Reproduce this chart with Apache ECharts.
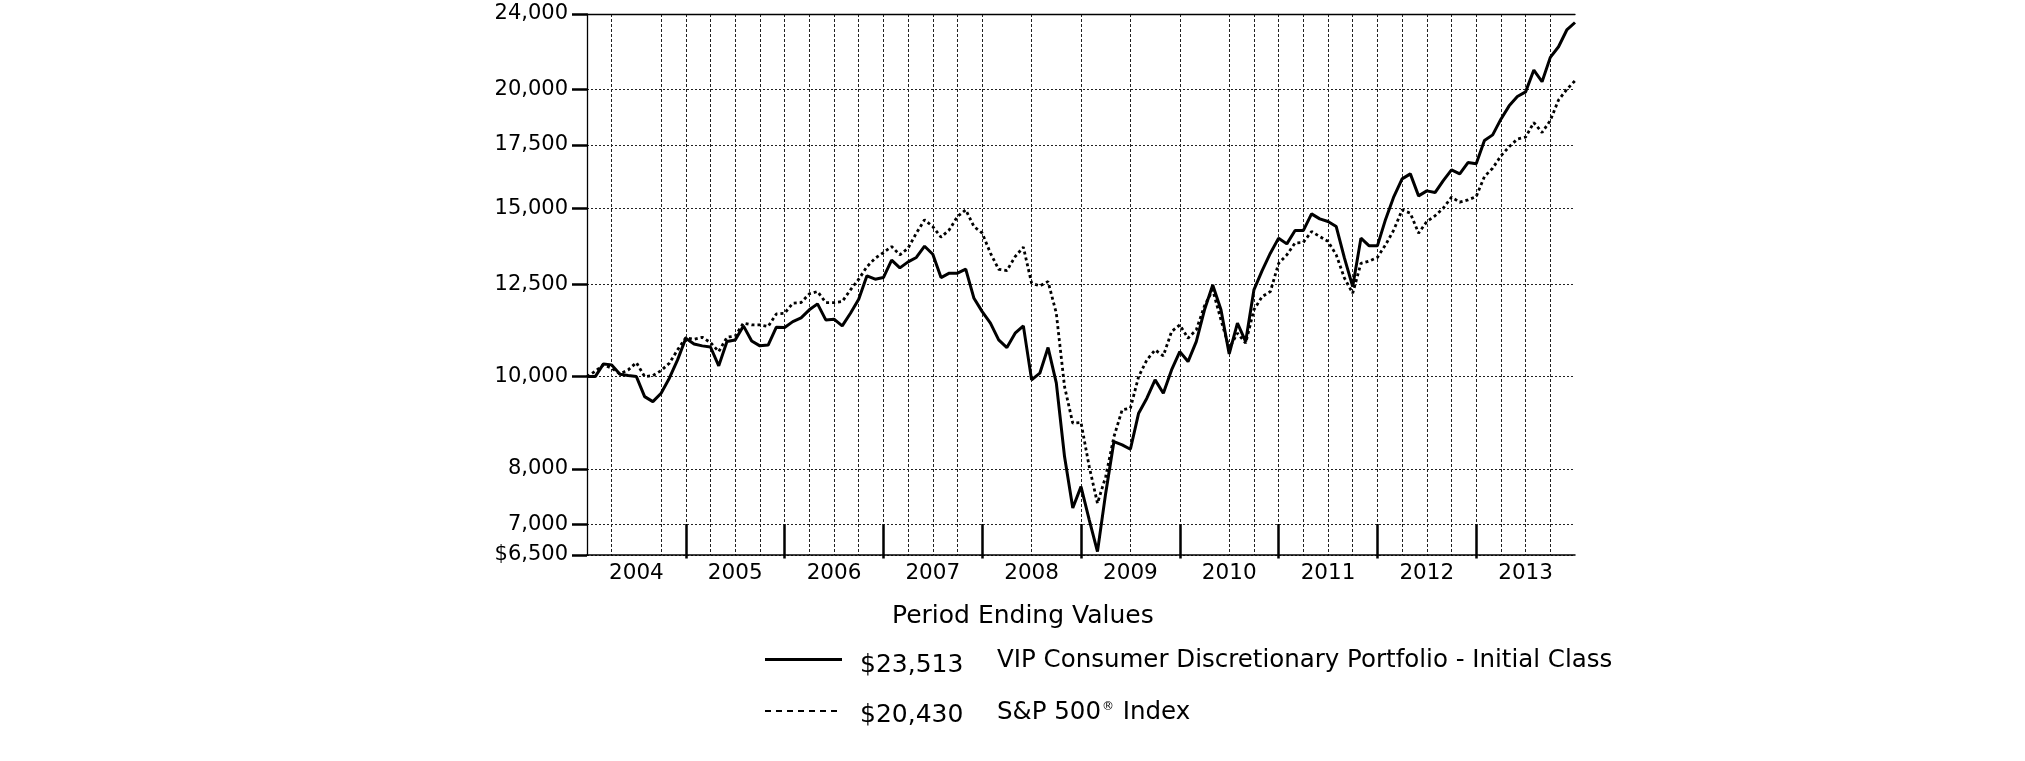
<!DOCTYPE html>
<html>
<head>
<meta charset="utf-8">
<script src="https://cdn.jsdelivr.net/npm/echarts@6/dist/echarts.min.js"></script>
<style>html,body{margin:0;padding:0;background:#fff}#c{width:2025px;height:761px}</style>
</head>
<body>
<div id="c"></div>
<script>
// ---------- data ----------
const years = ['2004','2005','2006','2007','2008','2009','2010','2011','2012','2013'];
// monthly period-ending values, Dec 2003 .. Dec 2013 (121 points)
const fundValues = [
  10000,10000,10311,10287,10057,10024,10000,9528,9414,9607,9961,10411,
  10969,10820,10770,10740,10262,10882,10926,11302,10899,10770,10790,11266,
  11257,11420,11523,11749,11920,11467,11486,11302,11652,12050,12754,12651,
  12701,13249,13001,13192,13333,13700,13437,12701,12836,12836,12961,12080,
  11699,11377,10926,10726,11104,11302,9921,10082,10726,9850,8244,7280,
  7667,7076,6553,7547,8547,8479,8391,9154,9492,9921,9607,10163,
  10622,10369,10882,11749,12476,11749,10563,11377,10882,12327,12918,13472,
  13969,13777,14227,14227,14812,14635,14541,14365,13309,12428,13969,13711,
  13711,14625,15444,16119,16314,15470,15658,15594,16053,16473,16314,16766,
  16714,17680,17925,18618,19226,19663,19886,20963,20378,21614,22175,23092,
  23513
];
const indexValues = [
  10000,10130,10287,10205,10065,10163,10344,10000,10024,10146,10329,10666,
  10984,10945,10996,10856,10622,10996,11031,11377,11330,11330,11284,11634,
  11654,11938,11957,12211,12280,11957,11957,11987,12330,12650,13036,13309,
  13491,13689,13416,13636,14138,14600,14365,14002,14252,14718,14958,14365,
  14138,13472,12958,12918,13360,13669,12530,12449,12579,11654,9761,8935,
  8950,8046,7364,7855,8648,9228,9265,10000,10411,10666,10512,11149,
  11330,10971,11194,11863,12330,11467,10710,11104,10840,11749,12130,12280,
  13143,13416,13808,13828,14193,14024,13861,13416,12682,12230,13143,13216,
  13335,13750,14252,14958,14837,14138,14541,14743,15018,15422,15236,15321,
  15444,16209,16540,17035,17421,17743,17829,18466,18028,18560,19500,20000,
  20430
];
const yTicks = [6500, 7000, 8000, 10000, 12500, 15000, 17500, 20000, 24000];
const yTickLabels = ['$6,500','7,000','8,000','10,000','12,500','15,000','17,500','20,000','24,000'];
const yearBoundaries = [12, 24, 36, 48, 60, 72, 84, 96, 108];
const yearMidpoints = [6, 18, 30, 42, 54, 66, 78, 90, 102, 114];
const gridMonths = [3, 9, 12, 15, 18, 21, 24, 27, 30, 33, 36, 39, 42, 45, 48, 54, 60, 66, 72, 78, 81, 84, 87, 90, 93, 96, 99, 102, 105, 108, 111, 114, 117];
const seriesNames = ['VIP Consumer Discretionary Portfolio - Initial Class', 'S&P 500® Index'];
const legendTitle = 'Period Ending Values';

// ---------- chart ----------
const FONT = 'DejaVu Sans';
const fmtMoney = v => '$' + Math.round(v).toLocaleString('en-US');
const chart = echarts.init(document.getElementById('c'), null, {renderer: 'canvas'});
const monthCount = fundValues.length - 1;

const option = {
  backgroundColor: '#ffffff',
  animation: false,
  grid: {left: 587, right: 450, top: 14, bottom: 206, containLabel: false},
  xAxis: [
    { // main axis: year labels, year ticks (inside)
      type: 'value', min: 0, max: monthCount, position: 'bottom',
      axisLine: {show: true, onZero: false, lineStyle: {color: '#000', width: 1.5}},
      axisTick: {show: true, inside: true, length: 31, customValues: yearBoundaries,
                 lineStyle: {color: '#000', width: 2.5}},
      axisLabel: {show: true, customValues: yearMidpoints, margin: 7,
                  fontFamily: FONT, fontSize: 21.5, color: '#000',
                  formatter: v => years[Math.round((v - 6) / 12)]},
      splitLine: {show: false}
    },
    { // vertical dotted grid
      type: 'value', min: 0, max: monthCount, position: 'bottom',
      axisLine: {show: false, onZero: false},
      axisTick: {show: false, customValues: gridMonths},
      axisLabel: {show: false},
      splitLine: {show: true, lineStyle: {color: '#222', width: 1, type: [3, 2]}}
    },
    { // small outward part of year ticks
      type: 'value', min: 0, max: monthCount, position: 'bottom',
      axisLine: {show: false, onZero: false},
      axisTick: {show: true, inside: false, length: 3.5, customValues: yearBoundaries,
                 lineStyle: {color: '#000', width: 2.5}},
      axisLabel: {show: false},
      splitLine: {show: false}
    },
    { // top frame line
      type: 'value', min: 0, max: monthCount, position: 'top',
      axisLine: {show: true, onZero: false, lineStyle: {color: '#000', width: 1.3}},
      axisTick: {show: false}, axisLabel: {show: false}, splitLine: {show: false}
    }
  ],
  yAxis: {
    type: 'log', logBase: 10, min: 6500, max: 24000,
    axisLine: {show: true, onZero: false, lineStyle: {color: '#000', width: 1.3}},
    axisTick: {show: true, length: 15, customValues: yTicks, lineStyle: {color: '#000', width: 2.5}},
    axisLabel: {show: true, customValues: yTicks, margin: 19, padding: [8, 0, 0, 0],
                fontFamily: FONT, fontSize: 21, color: '#000',
                formatter: v => {
                  let best = 0;
                  yTicks.forEach((t, i) => { if (Math.abs(t - v) < Math.abs(yTicks[best] - v)) best = i; });
                  return yTickLabels[best];
                }},
    splitLine: {show: true, lineStyle: {color: '#222', width: 1, type: [2, 2]}}
  },
  series: [
    {
      name: seriesNames[1], type: 'line', xAxisIndex: 0, yAxisIndex: 0,
      data: indexValues.map((v, i) => [i, v]),
      symbol: 'none', z: 3,
      lineStyle: {color: '#000', width: 2.8, type: [3, 3]}
    },
    {
      name: seriesNames[0], type: 'line', xAxisIndex: 0, yAxisIndex: 0,
      data: fundValues.map((v, i) => [i, v]),
      symbol: 'none', z: 4,
      lineStyle: {color: '#000', width: 3}
    }
  ],
  graphic: [
    {type: 'text', left: 892, top: 604, style: {text: legendTitle, font: '25px "DejaVu Sans"', fill: '#000'}},
    {type: 'line', shape: {x1: 765, y1: 659.5, x2: 842, y2: 659.5}, style: {stroke: '#000', lineWidth: 3}},
    {type: 'text', left: 860, top: 653, style: {text: fmtMoney(fundValues[fundValues.length - 1]), font: '25px "DejaVu Sans"', fill: '#000'}},
    {type: 'text', left: 997, top: 648, style: {text: seriesNames[0], font: '24.5px "DejaVu Sans"', fill: '#000'}},
    {type: 'line', shape: {x1: 765, y1: 711, x2: 842, y2: 711}, style: {stroke: '#000', lineWidth: 2, lineDash: [6, 5]}},
    {type: 'text', left: 860, top: 703, style: {text: fmtMoney(indexValues[indexValues.length - 1]), font: '25px "DejaVu Sans"', fill: '#000'}},
    {type: 'text', left: 997, top: 699, style: {
      text: '{a|S&P 500}{s|®}{a| Index}',
      rich: {
        a: {fontFamily: FONT, fontSize: 24.5, color: '#000', lineHeight: 28},
        s: {fontFamily: FONT, fontSize: 12, color: '#000', lineHeight: 14, verticalAlign: 'top', padding: [2, 1, 0, 1]}
      }
    }}
  ]
};
chart.setOption(option);
</script>
</body>
</html>
